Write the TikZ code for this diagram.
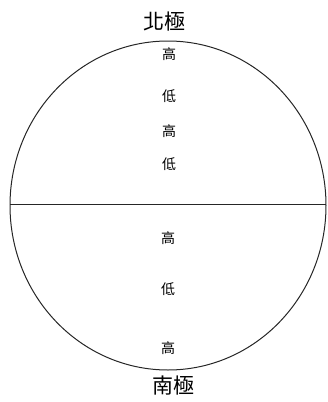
\documentclass[tikz,border=0pt]{standalone}
\usepackage{fontspec}
\usetikzlibrary{shapes.geometric}
\newfontfamily\cjk{Noto Sans CJK TC}
\begin{document}
\begin{tikzpicture}[x=1pt,y=-1pt,
  small/.style={font=\cjk\fontsize{14}{14}\selectfont,inner sep=0pt},
  pole/.style={font=\cjk\fontsize{21}{21}\selectfont,inner sep=0pt},
  globe/.style={draw=black!85,line width=1pt}]
\useasboundingbox (0,0) rectangle (327,402);
\node[globe,ellipse,minimum width=316pt,minimum height=329pt,inner sep=0pt] (earth) at (168,205.5) {};
\coordinate (w) at (10,204);
\coordinate (e) at (326,204);
\draw[globe] (w) -- (e);
\node[pole] (np) at (164,22) {北極};
\node[pole] (sp) at (173,386) {南極};
\node[small] (h1) at (169,54) {高};
\node[small] (l1) at (169,96) {低};
\node[small] (h2) at (169,131) {高};
\node[small] (l2) at (169,164) {低};
\node[small] (h3) at (168,238) {高};
\node[small] (l3) at (168,289) {低};
\node[small] (h4) at (168,348) {高};
\end{tikzpicture}
\end{document}
